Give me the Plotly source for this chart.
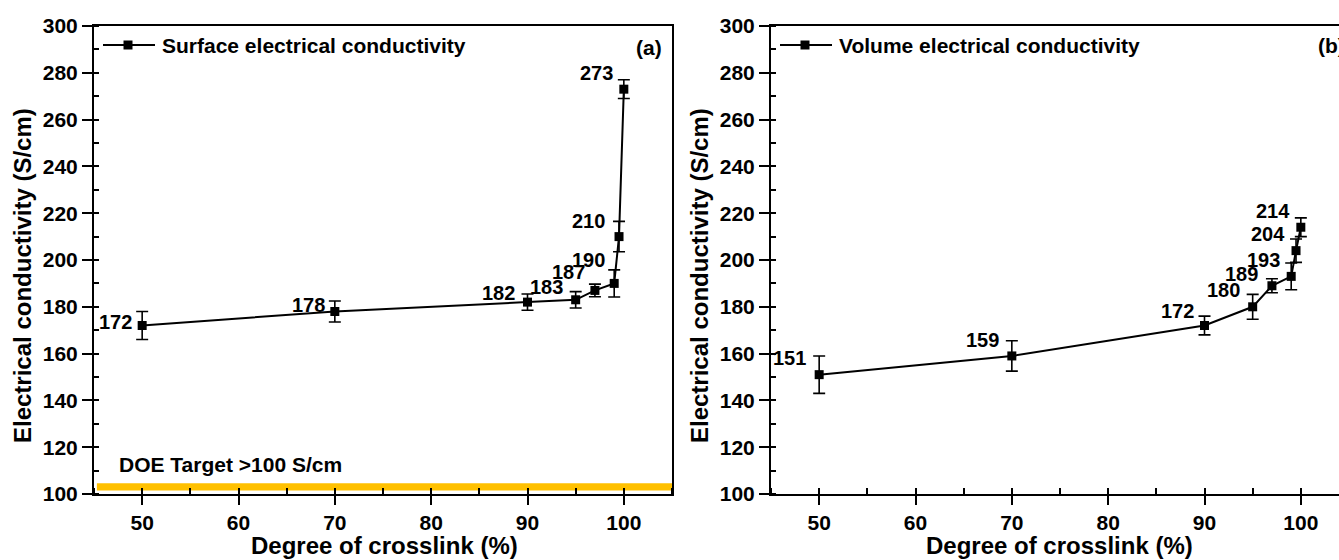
import plotly.graph_objects as go

# Degree of crosslink (%) for both panels
crosslink = [50, 70, 90, 95, 97, 99, 99.5, 100]

# Panel (a): surface electrical conductivity (S/cm) and its error
surface_sigma = [172, 178, 182, 183, 187, 190, 210, 273]
surface_err = [6, 4.5, 3.5, 3.5, 2.7, 5.8, 6.5, 4]

# Panel (b): volume electrical conductivity (S/cm) and its error
volume_sigma = [151, 159, 172, 180, 189, 193, 204, 214]
volume_err = [8, 6.5, 4, 5.3, 3, 5.7, 5, 4]

series_names = ["Surface electrical conductivity", "Volume electrical conductivity"]
panel_tags = ["(a)", "(b)"]
doe_target_text = "DOE Target >100 S/cm"
doe_band = [101.5, 104.6]   # S/cm extent of the target stripe
x_title = "Degree of crosslink (%)"
y_title = "Electrical conductivity (S/cm)"

# label offsets in px (right edge relative to marker, vertical lift)
surface_label_off = [(-8, 4), (-8, 6), (-11, 9), (-11, 13), (-8, 18), (-7, 23), (-12, 16), (-9, 16)]
volume_label_off = [(-11, 17), (-11, 16), (-9, 15), (-11, 17), (-12, 12), (-9, 16), (-9, 17), (-9, 16)]

W, H = 1339, 560
FONT = "Arial, 'Liberation Sans', sans-serif"
BLACK = "#000000"

# pixel geometry of the two plot frames
left_px = (94, 672)
right_px = (771, 1339)
top_px, bottom_px = 26, 494
px_per_unit = (left_px[1] - left_px[0]) / 60.0

def dom_x(a, b):
    return [a / W, b / W]

ydom = [(H - bottom_px) / H, (H - top_px) / H]
right_max = 45 + (right_px[1] - right_px[0]) / px_per_unit

fig = go.Figure()

def add_series(xs, ys, errs, xa, ya):
    fig.add_trace(go.Scatter(
        x=xs, y=ys, xaxis=xa, yaxis=ya, mode="lines+markers",
        line=dict(color=BLACK, width=2),
        marker=dict(symbol="square", size=9, color=BLACK),
        error_y=dict(type="data", array=errs, visible=True, color=BLACK, thickness=1.6, width=6),
        showlegend=False, cliponaxis=False,
    ))

add_series(crosslink, surface_sigma, surface_err, "x", "y")
add_series(crosslink, volume_sigma, volume_err, "x2", "y2")

def main_x(domain, rng, anchor, mirror):
    return dict(domain=domain, range=rng, anchor=anchor, dtick=10, tick0=0,
                ticks="outside", ticklen=9, tickwidth=2, tickcolor=BLACK,
                minor=dict(dtick=5, ticks="inside", ticklen=6, tickwidth=2, tickcolor=BLACK),
                showline=True, linewidth=2, linecolor=BLACK, mirror=mirror,
                showgrid=False, zeroline=False, tickfont=dict(size=21),
                automargin=False)

def main_y(anchor, mirror):
    return dict(domain=ydom, range=[100, 300], anchor=anchor, dtick=20, tick0=0,
                ticks="outside", ticklen=10, tickwidth=2, tickcolor=BLACK,
                minor=dict(dtick=10, ticks="inside", ticklen=5, tickwidth=2, tickcolor=BLACK),
                showline=True, linewidth=2, linecolor=BLACK, mirror=mirror,
                showgrid=False, zeroline=False, tickfont=dict(size=21),
                automargin=False)

def inner_x(domain, rng, anchor, over):
    return dict(domain=domain, range=rng, anchor=anchor, overlaying=over, dtick=10, tick0=0,
                ticks="inside", ticklen=8, tickwidth=2, tickcolor=BLACK,
                showticklabels=False, showline=False, showgrid=False, zeroline=False)

def inner_y(anchor, over):
    return dict(domain=ydom, range=[100, 300], anchor=anchor, overlaying=over, dtick=20, tick0=0,
                ticks="inside", ticklen=10, tickwidth=2, tickcolor=BLACK,
                showticklabels=False, showline=False, showgrid=False, zeroline=False)

ldom = dom_x(*left_px)
rdom = dom_x(*right_px)

fig.update_layout(
    width=W, height=H,
    margin=dict(l=0, r=0, t=0, b=0),
    paper_bgcolor="white", plot_bgcolor="white",
    font=dict(family=FONT, color=BLACK, size=20, weight="bold"),
    xaxis=main_x(ldom, [45, 105], "y", True),
    yaxis=main_y("x", True),
    xaxis2=main_x(rdom, [45, right_max], "y2", True),
    yaxis2=main_y("x2", False),
    xaxis3=inner_x(ldom, [45, 105], "y", "x"),
    yaxis3=inner_y("x", "y"),
    xaxis4=inner_x(rdom, [45, right_max], "y2", "x2"),
    yaxis4=inner_y("x2", "y2"),
    showlegend=False,
)

# DOE target stripe
fig.add_shape(type="rect", xref="x", yref="y", x0=45.3, x1=105, y0=doe_band[0], y1=doe_band[1],
              fillcolor="#FFC000", line=dict(width=0), layer="below")

annotations = []

# value labels
for xs, ys, offs, xr, yr in [(crosslink, surface_sigma, surface_label_off, "x", "y"),
                             (crosslink, volume_sigma, volume_label_off, "x2", "y2")]:
    for xv, yv, (dx, dy) in zip(xs, ys, offs):
        annotations.append(dict(x=xv, y=yv, xref=xr, yref=yr, text=str(yv), showarrow=False,
                                xanchor="right", yanchor="middle", xshift=dx, yshift=dy,
                                font=dict(size=20)))

# in-frame legend: line + square + text
leg_y = (bottom_px - 45) / (bottom_px - top_px)
for i, (xd, yd, (a, b)) in enumerate([("x domain", "y domain", left_px), ("x2 domain", "y2 domain", right_px)]):
    span = float(b - a)
    fig.add_shape(type="line", xref=xd, yref=yd, x0=9 / span, x1=61 / span, y0=leg_y, y1=leg_y,
                  line=dict(color=BLACK, width=2))
    fig.add_shape(type="rect", xref=xd, yref=yd, xsizemode="pixel", ysizemode="pixel",
                  xanchor=34 / span, yanchor=leg_y, x0=-4.5, x1=4.5, y0=-4.5, y1=4.5,
                  fillcolor=BLACK, line=dict(width=0))
    annotations.append(dict(x=(a + 66) / W, y=(H - 45) / H, xref="paper", yref="paper",
                            text=series_names[i], showarrow=False, xanchor="left", yanchor="middle",
                            font=dict(size=21)))

# panel tags
annotations.append(dict(x=664 / W, y=(H - 47) / H, xref="paper", yref="paper", text=panel_tags[0],
                        showarrow=False, xanchor="right", yanchor="middle", font=dict(size=21)))
annotations.append(dict(x=1316 / W, y=(H - 45) / H, xref="paper", yref="paper", text=panel_tags[1],
                        showarrow=False, xanchor="left", yanchor="middle", font=dict(size=21)))

# DOE target caption
annotations.append(dict(x=117 / W, y=(H - 465) / H, xref="paper", yref="paper", text=doe_target_text,
                        showarrow=False, xanchor="left", yanchor="middle", font=dict(size=21)))

# axis titles
for cx in [384, 1059]:
    annotations.append(dict(x=cx / W, y=(H - 545) / H, xref="paper", yref="paper", text=x_title,
                            showarrow=False, xanchor="center", yanchor="middle", font=dict(size=24)))
for cx in [22, 699]:
    annotations.append(dict(x=cx / W, y=(H - 276) / H, xref="paper", yref="paper", text=y_title,
                            showarrow=False, xanchor="center", yanchor="middle", textangle=-90,
                            font=dict(size=24)))

fig.update_layout(annotations=annotations)

fig.write_html("out.html")
